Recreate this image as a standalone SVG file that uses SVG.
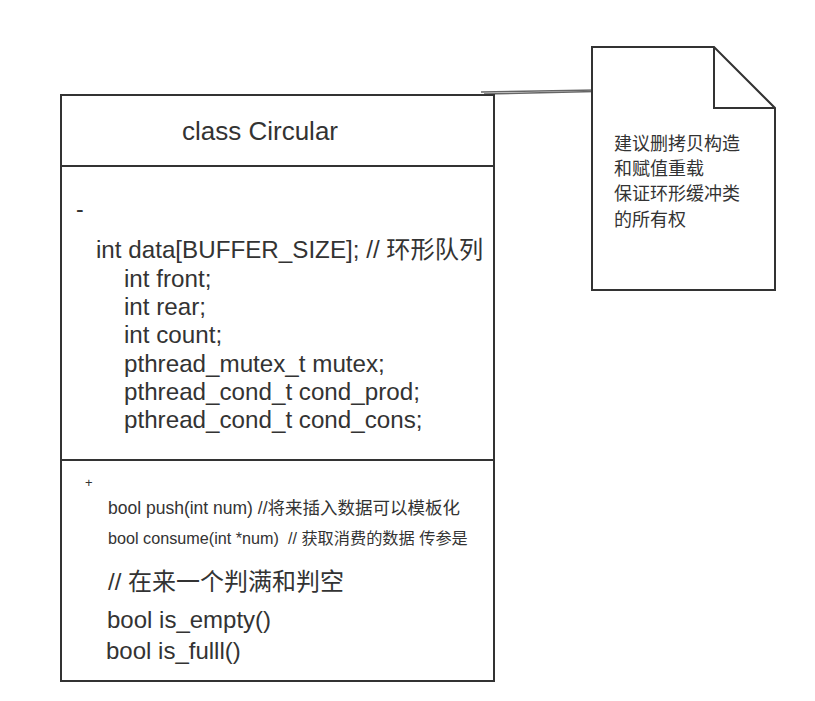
<svg xmlns="http://www.w3.org/2000/svg" width="815" height="701" viewBox="0 0 815 701">
<style>
.shape{fill:#fff;stroke:#333;stroke-width:2}
.line{fill:none;stroke:#333;stroke-width:2}
.t{font-family:"Liberation Sans",Arial,"Noto Sans CJK SC",sans-serif;fill:#333}
.conn{fill:none;stroke:#666;stroke-width:1.5}
</style>
<rect width="815" height="701" fill="#fff"/>
<g id="connectors">
<path class="conn" d="M481,92 L597,90"/>
<path class="conn" d="M484,94 L595,91.5"/>
</g>
<g id="class-circular">
<rect class="shape" x="61" y="95" width="433" height="586"/>
<line class="line" x1="61" y1="166" x2="494" y2="166"/>
<line class="line" x1="61" y1="460" x2="494" y2="460"/>
<text class="t" x="260" y="140" font-size="26" text-anchor="middle">class Circular</text>
<text class="t" x="76" y="217" font-size="23">-</text>
<text class="t" font-size="24.2">
<tspan x="96" y="258">int data[BUFFER_SIZE]; // 环形队列</tspan>
<tspan x="124" y="287">int front;</tspan>
<tspan x="124" y="315">int rear;</tspan>
<tspan x="124" y="343">int count;</tspan>
<tspan x="124" y="372">pthread_mutex_t mutex;</tspan>
<tspan x="124" y="400">pthread_cond_t cond_prod;</tspan>
<tspan x="124" y="428">pthread_cond_t cond_cons;</tspan>
</text>
<text class="t" x="85" y="487" font-size="13">+</text>
<text class="t" x="108" y="514" font-size="17.5">bool push(int num) //将来插入数据可以模板化</text>
<text class="t" x="108" y="544" font-size="16.2" xml:space="preserve">bool consume(int *num)  // 获取消费的数据 传参是</text>
<text class="t" x="108" y="590" font-size="24">// 在来一个判满和判空</text>
<text class="t" x="107" y="628" font-size="24">bool is_empty()</text>
<text class="t" x="106" y="659" font-size="24">bool is_fulll()</text>
</g>
<g id="note">
<path class="shape" d="M592,47 L714,47 L775,108 L775,290 L592,290 Z"/>
<path class="line" d="M714,47 L714,108 L775,108"/>
<text class="t" font-size="18">
<tspan x="614" y="150">建议删拷贝构造</tspan>
<tspan x="614" y="175">和赋值重载</tspan>
<tspan x="614" y="200">保证环形缓冲类</tspan>
<tspan x="614" y="226">的所有权</tspan>
</text>
</g>
</svg>
